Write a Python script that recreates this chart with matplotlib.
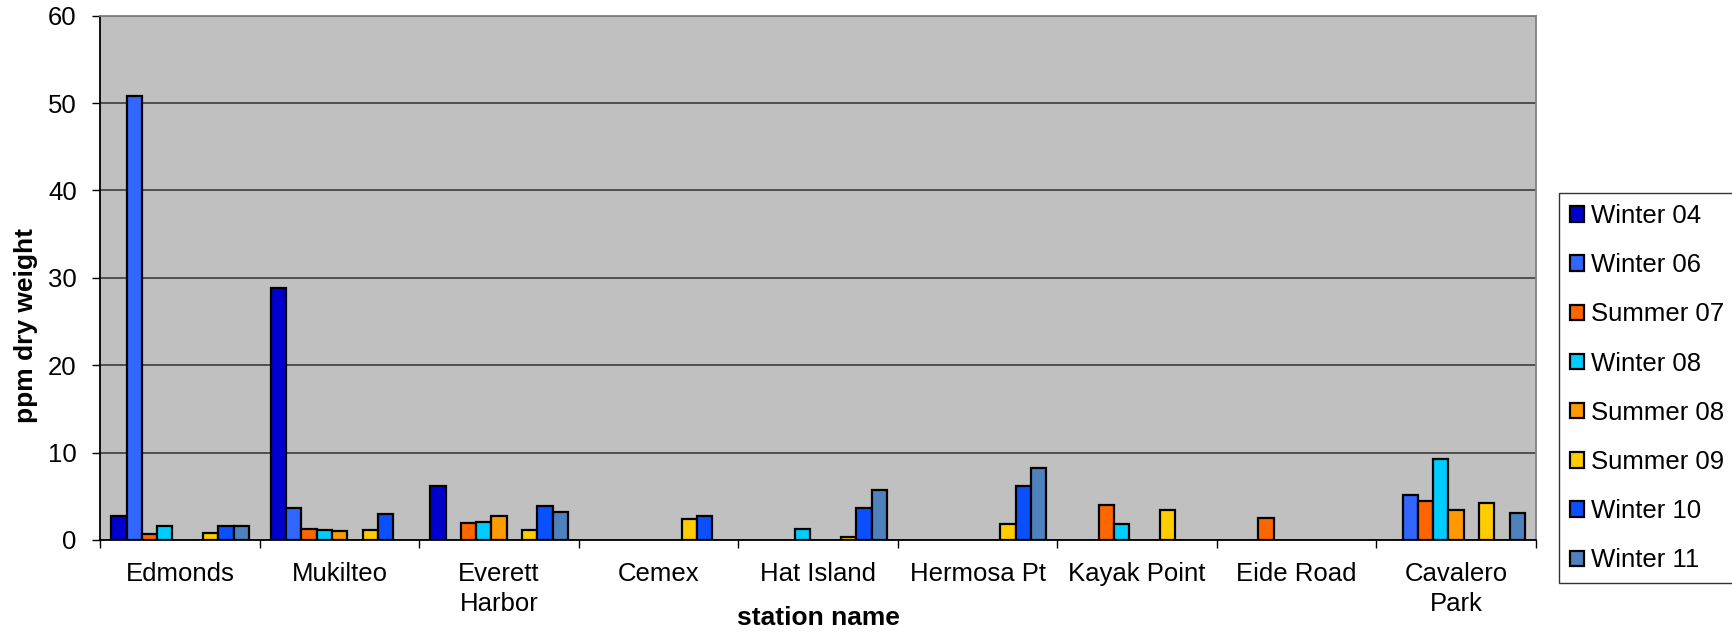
import numpy as np
import matplotlib
matplotlib.use("Agg")
import matplotlib.pyplot as plt

nan = np.nan

stations = ["Edmonds", "Mukilteo", "Everett\nHarbor", "Cemex", "Hat Island",
            "Hermosa Pt", "Kayak Point", "Eide Road", "Cavalero\nPark"]

winter_04 = [2.7, 28.8, 6.2, nan, nan, nan, nan, nan, nan]
winter_06 = [50.8, 3.7, nan, nan, nan, nan, nan, nan, 5.1]
summer_07 = [0.7, 1.3, 2.0, nan, nan, nan, 4.0, 2.5, 4.5]
winter_08 = [1.6, 1.1, 2.1, nan, 1.2, nan, 1.8, nan, 9.3]
summer_08 = [nan, 1.0, 2.7, nan, nan, nan, nan, nan, 3.4]
summer_09 = [0.8, 1.1, 1.1, 2.4, 0.3, 1.8, 3.4, nan, 4.2]
winter_10 = [1.6, 3.0, 3.9, 2.7, 3.7, 6.2, nan, nan, nan]
winter_11 = [1.6, nan, 3.2, nan, 5.7, 8.2, nan, nan, 3.1]

series = [
    ("Winter 04", winter_04, "#0000CC"),
    ("Winter 06", winter_06, "#3366FF"),
    ("Summer 07", summer_07, "#FF6600"),
    ("Winter 08", winter_08, "#00CCFF"),
    ("Summer 08", summer_08, "#FF9900"),
    ("Summer 09", summer_09, "#FFCC00"),
    ("Winter 10", winter_10, "#0A50FF"),
    ("Winter 11", winter_11, "#4F81BD"),
]
# nine columns per station, the sixth one stays empty
slots = [0, 1, 2, 3, 4, 6, 7, 8]
n_slots = 9
bar_w = 0.0959

plt.rcParams["font.family"] = ["Liberation Sans", "DejaVu Sans"]

fig = plt.figure(figsize=(17.33, 6.32), dpi=100)
ax = fig.add_axes([0.0579, 0.1456, 0.8283, 0.8296])
ax.set_facecolor("#C0C0C0")

x = np.arange(len(stations))
for (name, vals, col), s in zip(series, slots):
    off = (s - (n_slots - 1) / 2) * bar_w
    ax.bar(x + off, vals, width=bar_w, color=col, edgecolor="black",
           linewidth=1.6, label=name, zorder=3)

ax.set_xlim(-0.5, len(stations) - 0.5)
ax.set_ylim(0, 60)
ax.set_yticks(range(0, 61, 10))
ax.yaxis.grid(True, color="#505050", linewidth=1.4, zorder=1)
ax.tick_params(axis="y", direction="out", length=6, width=1, pad=11, labelsize=18.5)

# ticks between stations, names centred under each group
ax.set_xticks(np.arange(-0.5, len(stations), 1.0))
ax.set_xticklabels([])
ax.tick_params(axis="x", which="major", direction="out", length=6, width=1)
ax.set_xticks(x, minor=True)
ax.set_xticklabels(stations, minor=True, fontsize=18.5, linespacing=1.3, va="top")
ax.tick_params(axis="x", which="minor", length=0, pad=16)

for side in ("left", "bottom"):
    ax.spines[side].set_color("black")
    ax.spines[side].set_linewidth(1.3)
for side in ("top", "right"):
    ax.spines[side].set_color("#808080")
    ax.spines[side].set_linewidth(1.3)

ax.set_ylabel("ppm dry weight", fontsize=19, fontweight="bold", va="center")
ax.yaxis.set_label_coords(-0.0515, 0.41)
ax.set_xlabel("station name", fontsize=19, fontweight="bold", va="center")
ax.xaxis.set_label_coords(0.5, -0.148)

leg = ax.legend(loc="upper left", bbox_to_anchor=(0.8998, 0.6941),
                bbox_transform=fig.transFigure, borderaxespad=0,
                fontsize=18.5, frameon=True, fancybox=False, edgecolor="black",
                handlelength=0.55, handleheight=0.55, handletextpad=0.25,
                labelspacing=0.98, borderpad=0.42)
leg.get_frame().set_linewidth(1.0)

fig.savefig("out.png", dpi=100)
